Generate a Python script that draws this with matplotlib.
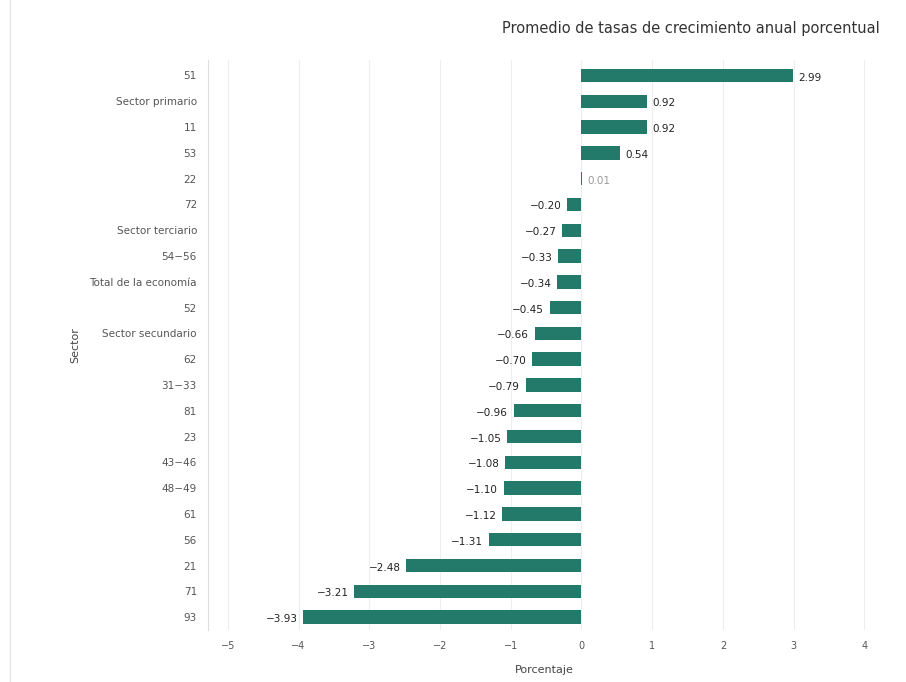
import numpy as np
import matplotlib.pyplot as plt
from matplotlib.lines import Line2D

sectores = ["51", "Sector primario", "11", "53", "22", "72", "Sector terciario",
            "54\u221256", "Total de la economía", "52", "Sector secundario", "62",
            "31\u221233", "81", "23", "43\u221246", "48\u221249", "61", "56",
            "21", "71", "93"]
valores = [2.99, 0.92, 0.92, 0.54, 0.01, -0.20, -0.27, -0.33, -0.34, -0.45,
           -0.66, -0.70, -0.79, -0.96, -1.05, -1.08, -1.10, -1.12, -1.31,
           -2.48, -3.21, -3.93]
xticks = [-5, -4, -3, -2, -1, 0, 1, 2, 3, 4]

color_barra = "#23796a"

fig = plt.figure(figsize=(9.06, 6.82), dpi=100)
ax = fig.add_axes([208 / 906, 1 - 630 / 682, 672 / 906, 570 / 682])

y = np.arange(len(sectores))
ax.barh(y, valores, height=0.52, color=color_barra, zorder=3)

for yi, v in zip(y, valores):
    txt = f"{v:.2f}".replace("-", "\u2212")
    if v >= 0:
        ax.text(v + 0.08, yi + 0.08, txt, ha="left", va="center", fontsize=7.5,
                color="#999999" if v < 0.05 else "#222222")
    else:
        ax.text(v - 0.08, yi + 0.08, txt, ha="right", va="center", fontsize=7.5,
                color="#222222")

ax.set_yticks(y)
ax.set_yticklabels(sectores, fontsize=7.5, color="#555555")
ax.set_ylim(len(sectores) - 0.5, -0.6)
ax.set_xlim(-5.28, 4.22)
ax.set_xticks(xticks)
ax.set_xticklabels([str(t).replace("-", "\u2212") for t in xticks],
                   fontsize=7, color="#555555")
ax.tick_params(length=0, pad=8)
ax.grid(axis="x", color="#eeeeee", linewidth=0.8, zorder=0)
for s in ["top", "right", "bottom"]:
    ax.spines[s].set_visible(False)
ax.spines["left"].set_color("#dddddd")

ax.set_xlabel("Porcentaje", fontsize=8, color="#444444", labelpad=10)
ax.set_ylabel("Sector", fontsize=8, color="#444444")
ax.yaxis.set_label_coords(-0.19, 0.5)
fig.text(880 / 906, 1 - 28 / 682, "Promedio de tasas de crecimiento anual porcentual",
         ha="right", va="center", fontsize=10.5, color="#333333")

fig.add_artist(Line2D([10 / 906, 10 / 906], [0, 1], transform=fig.transFigure,
                      color="#e6e6e6", linewidth=1))

fig.savefig("out.png", dpi=100)
